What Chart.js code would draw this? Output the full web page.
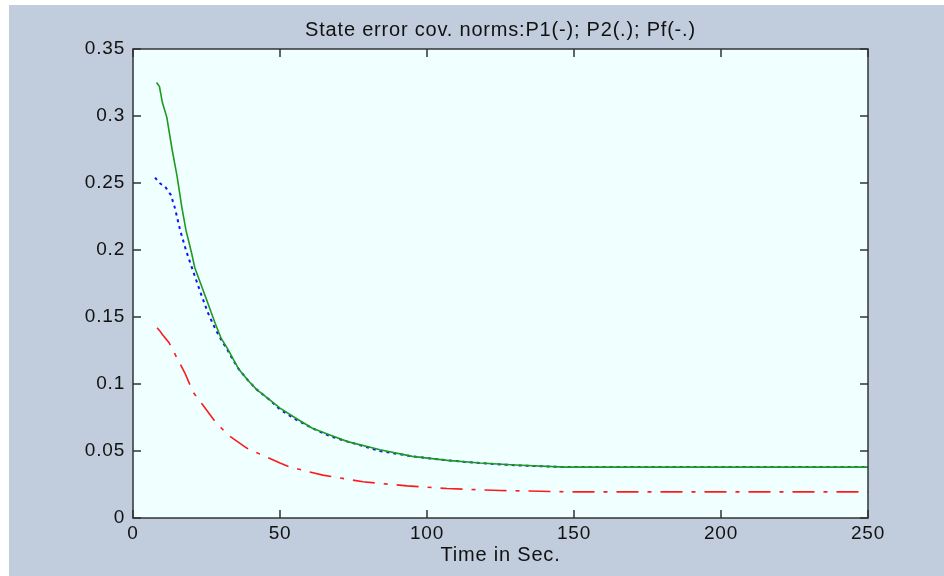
<!DOCTYPE html>
<html lang="en">
<head>
    <meta charset="UTF-8">
    <title>State error cov. norms</title>
    <script src="https://cdn.jsdelivr.net/npm/chart.js"></script>
    <style>
        body { margin: 0; background: #ffffff; }
        #wrap { position: absolute; left: 9px; top: 5px; width: 935px; height: 571px; background: #c1cddd; }
    </style>
</head>
<body>
    <div id="wrap"><canvas id="covChart" width="935" height="571"></canvas></div>
    <script>
        // P1 (solid green)
        const p1Time = [8, 9, 10, 11.5, 13.3, 15, 16.6, 18, 20, 21, 23, 25, 28, 30, 32, 34, 36, 39, 42, 46, 50, 55, 61, 67, 73, 84, 95, 107, 118, 130, 147, 150, 200, 250];
        const p1Norm = [0.325, 0.322, 0.31, 0.299, 0.275, 0.255, 0.232, 0.215, 0.197, 0.187, 0.175, 0.163, 0.145, 0.134, 0.127, 0.119, 0.111, 0.103, 0.096, 0.089, 0.082, 0.075, 0.067, 0.062, 0.057, 0.051, 0.046, 0.043, 0.041, 0.0395, 0.038, 0.038, 0.038, 0.038];
        // P2 (dotted blue)
        const p2Time = [7.5, 9, 11, 12.9, 14.3, 16, 18, 20, 23, 25.5, 28, 30, 32, 34, 36, 39, 42, 46, 50, 55, 61, 67, 73, 84, 95, 107, 118, 130, 147, 250];
        const p2Norm = [0.254, 0.25, 0.247, 0.241, 0.231, 0.215, 0.2, 0.187, 0.168, 0.153, 0.141, 0.133, 0.126, 0.118, 0.111, 0.103, 0.096, 0.089, 0.081, 0.074, 0.067, 0.061, 0.057, 0.05, 0.046, 0.043, 0.041, 0.0393, 0.038, 0.038];
        // Pf (dash-dot red)
        const pfTime = [8.2, 9, 10, 12.2, 15.3, 17.7, 20.4, 23.5, 27.9, 32.3, 38.8, 45.9, 50, 53.4, 64.6, 78.2, 93.2, 106.8, 125, 150, 200, 250];
        const pfNorm = [0.142, 0.14, 0.137, 0.131, 0.118, 0.108, 0.094, 0.085, 0.072, 0.062, 0.052, 0.045, 0.041, 0.038, 0.032, 0.027, 0.024, 0.022, 0.0205, 0.0195, 0.0195, 0.0195];

        const toPoints = (xs, ys) => xs.map((x, i) => ({ x: x, y: ys[i] }));
        const fontFamily = "'Liberation Sans', Arial, sans-serif";

        // MATLAB style box with ticks pointing inwards on all four sides
        const boxPlugin = {
            id: 'matlabBox',
            beforeDraw(chart) {
                // the original text is a bit wider than Arial
                chart.ctx.letterSpacing = '0.8px';
            },
            beforeDatasetsDraw(chart) {
                const { ctx, chartArea: a } = chart;
                ctx.save();
                ctx.fillStyle = '#f0ffff';
                ctx.fillRect(a.left, a.top, a.right - a.left, a.bottom - a.top);
                ctx.restore();
            },
            afterDatasetsDraw(chart) {
                const { ctx, chartArea: a, scales } = chart;
                const len = 8;
                ctx.save();
                ctx.strokeStyle = '#333333';
                ctx.lineWidth = 1.5;
                ctx.beginPath();
                scales.x.ticks.forEach(t => {
                    const px = scales.x.getPixelForValue(t.value);
                    ctx.moveTo(px, a.bottom); ctx.lineTo(px, a.bottom - len);
                    ctx.moveTo(px, a.top); ctx.lineTo(px, a.top + len);
                });
                scales.y.ticks.forEach(t => {
                    const py = scales.y.getPixelForValue(t.value);
                    ctx.moveTo(a.left, py); ctx.lineTo(a.left + len, py);
                    ctx.moveTo(a.right, py); ctx.lineTo(a.right - len, py);
                });
                ctx.stroke();
                ctx.strokeRect(a.left, a.top, a.right - a.left, a.bottom - a.top);
                ctx.restore();
            }
        };

        const ctx = document.getElementById('covChart').getContext('2d');
        new Chart(ctx, {
            type: 'line',
            data: {
                datasets: [
                    {
                        label: 'P1',
                        data: toPoints(p1Time, p1Norm),
                        borderColor: '#1f9a1f',
                        borderWidth: 1.6,
                        pointRadius: 0,
                        order: 1
                    },
                    {
                        label: 'P2',
                        data: toPoints(p2Time, p2Norm),
                        borderColor: '#1010ff',
                        borderWidth: 2,
                        borderDash: [3, 4],
                        pointRadius: 0,
                        order: 2
                    },
                    {
                        label: 'Pf',
                        data: toPoints(pfTime, pfNorm),
                        borderColor: '#ff1a1a',
                        borderWidth: 1.6,
                        borderDash: [22, 9, 4, 9],
                        pointRadius: 0,
                        order: 0
                    }
                ]
            },
            options: {
                responsive: false,
                animation: false,
                layout: { padding: { left: 0, right: 76, top: 0, bottom: 0 } },
                plugins: {
                    legend: { display: false },
                    tooltip: { enabled: false },
                    title: {
                        display: true,
                        fullSize: false,
                        text: 'State error cov. norms:P1(-); P2(.); Pf(-.)',
                        color: '#111111',
                        font: { family: fontFamily, size: 20, weight: 'normal' },
                        padding: { top: 13, bottom: 7 }
                    }
                },
                scales: {
                    x: {
                        type: 'linear',
                        min: 0,
                        max: 250,
                        grid: { display: false },
                        border: { display: false },
                        ticks: {
                            stepSize: 50,
                            color: '#111111',
                            padding: -4,
                            font: { family: fontFamily, size: 19 }
                        },
                        title: {
                            display: true,
                            text: 'Time in Sec.',
                            color: '#111111',
                            font: { family: fontFamily, size: 20 },
                            padding: { top: 0, bottom: 9 }
                        },
                        afterFit: scale => { scale.height = 58; }
                    },
                    y: {
                        min: 0,
                        max: 0.35,
                        grid: { display: false },
                        border: { display: false },
                        ticks: {
                            stepSize: 0.05,
                            color: '#111111',
                            padding: 0,
                            font: { family: fontFamily, size: 19 },
                            callback: v => String(+v.toFixed(2))
                        },
                        afterFit: scale => { scale.width = 124; }
                    }
                }
            },
            plugins: [boxPlugin]
        });
    </script>
</body>
</html>
